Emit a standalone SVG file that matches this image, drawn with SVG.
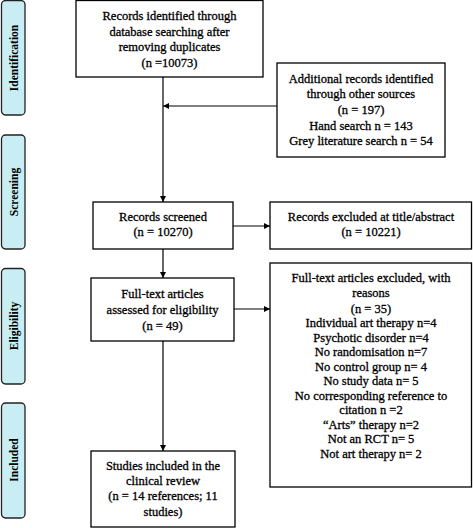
<svg xmlns="http://www.w3.org/2000/svg" width="473" height="528" viewBox="0 0 473 528">
<defs>
<style>
.box{fill:#fff;stroke:#000;stroke-width:1.3}
.side{fill:#c8eef4;stroke:#222;stroke-width:1.3}
.t{font-family:"Liberation Serif","DejaVu Serif",serif;font-size:12.5px;fill:#000;text-anchor:middle;stroke:#000;stroke-width:0.3}
.st{font-family:"Liberation Serif","DejaVu Serif",serif;font-size:11.5px;font-weight:bold;fill:#000;text-anchor:middle}
.c{fill:none;stroke:#000;stroke-width:1.2}
</style>
<marker id="ah" viewBox="0 0 10 10" refX="10" refY="5" markerWidth="6" markerHeight="6" markerUnits="userSpaceOnUse" orient="auto">
<path d="M0,0 L10,5 L0,10 z" fill="#000"/>
</marker>
</defs>
<rect width="473" height="528" fill="#fff"/>
<g id="side-identification">
<rect class="side" x="1.5" y="0.5" width="23.5" height="114.5" rx="4"/>
<text class="st" transform="translate(17.5,58) rotate(-90)">Identification</text>
</g>
<g id="side-screening">
<rect class="side" x="1.5" y="135" width="23.5" height="114" rx="4"/>
<text class="st" transform="translate(17.5,192) rotate(-90)">Screening</text>
</g>
<g id="side-eligibility">
<rect class="side" x="1.5" y="268.5" width="23.5" height="115.5" rx="4"/>
<text class="st" transform="translate(17.5,326) rotate(-90)">Eligibility</text>
</g>
<g id="side-included">
<rect class="side" x="1.5" y="403" width="23.5" height="115" rx="4"/>
<text class="st" transform="translate(17.5,460) rotate(-90)">Included</text>
</g>
<g id="connectors">
<line class="c" x1="163" y1="77" x2="163" y2="202" marker-end="url(#ah)"/>
<line class="c" x1="277" y1="106" x2="163" y2="106" marker-end="url(#ah)"/>
<line class="c" x1="233" y1="226" x2="270" y2="226" marker-end="url(#ah)"/>
<line class="c" x1="163" y1="249" x2="163" y2="278" marker-end="url(#ah)"/>
<line class="c" x1="234" y1="309" x2="270" y2="309" marker-end="url(#ah)" stroke-width="1.6"/>
<line class="c" x1="163" y1="341" x2="163" y2="451" marker-end="url(#ah)"/>
</g>
<g id="node-identified">
<rect class="box" x="76" y="0.5" width="187" height="76.5"/>
<text class="t" x="169.5" y="20">Records identified through</text>
<text class="t" x="169.5" y="36">database searching after</text>
<text class="t" x="169.5" y="51">removing duplicates</text>
<text class="t" x="169.5" y="67">(n =10073)</text>
</g>
<g id="node-additional">
<rect class="box" x="277" y="63" width="168" height="94"/>
<text class="t" x="361" y="83">Additional records identified</text>
<text class="t" x="361" y="98">through other sources</text>
<text class="t" x="361" y="114">(n = 197)</text>
<text class="t" x="361" y="130">Hand search n = 143</text>
<text class="t" x="361" y="145">Grey literature search n = 54</text>
</g>
<g id="node-screened">
<rect class="box" x="93" y="202" width="140" height="47"/>
<text class="t" x="163" y="221">Records screened</text>
<text class="t" x="163" y="236">(n = 10270)</text>
</g>
<g id="node-excluded-title">
<rect class="box" x="270" y="202" width="201.5" height="47"/>
<text class="t" x="371" y="221">Records excluded at title/abstract</text>
<text class="t" x="371" y="236">(n = 10221)</text>
</g>
<g id="node-assessed">
<rect class="box" x="91" y="278" width="143" height="63"/>
<text class="t" x="162.5" y="298">Full-text articles</text>
<text class="t" x="162.5" y="314">assessed for eligibility</text>
<text class="t" x="162.5" y="330">(n = 49)</text>
</g>
<g id="node-excluded-fulltext">
<rect class="box" x="270" y="263" width="201.5" height="224"/>
<text class="t" x="371" y="282">Full-text articles excluded, with</text>
<text class="t" x="371" y="297">reasons</text>
<text class="t" x="371" y="313">(n = 35)</text>
<text class="t" x="371" y="327">Individual art therapy n=4</text>
<text class="t" x="371" y="342">Psychotic disorder n=4</text>
<text class="t" x="371" y="356">No randomisation n=7</text>
<text class="t" x="371" y="371">No control group n= 4</text>
<text class="t" x="371" y="385">No study data n= 5</text>
<text class="t" x="371" y="400">No corresponding reference to</text>
<text class="t" x="371" y="414">citation n =2</text>
<text class="t" x="371" y="429">“Arts” therapy n=2</text>
<text class="t" x="371" y="443">Not an RCT n= 5</text>
<text class="t" x="371" y="458">Not art therapy n= 2</text>
</g>
<g id="node-included">
<rect class="box" x="91" y="451" width="144" height="76"/>
<text class="t" x="163" y="470">Studies included in the</text>
<text class="t" x="163" y="485">clinical review</text>
<text class="t" x="163" y="500">(n = 14 references; 11</text>
<text class="t" x="163" y="516">studies)</text>
</g>
</svg>
